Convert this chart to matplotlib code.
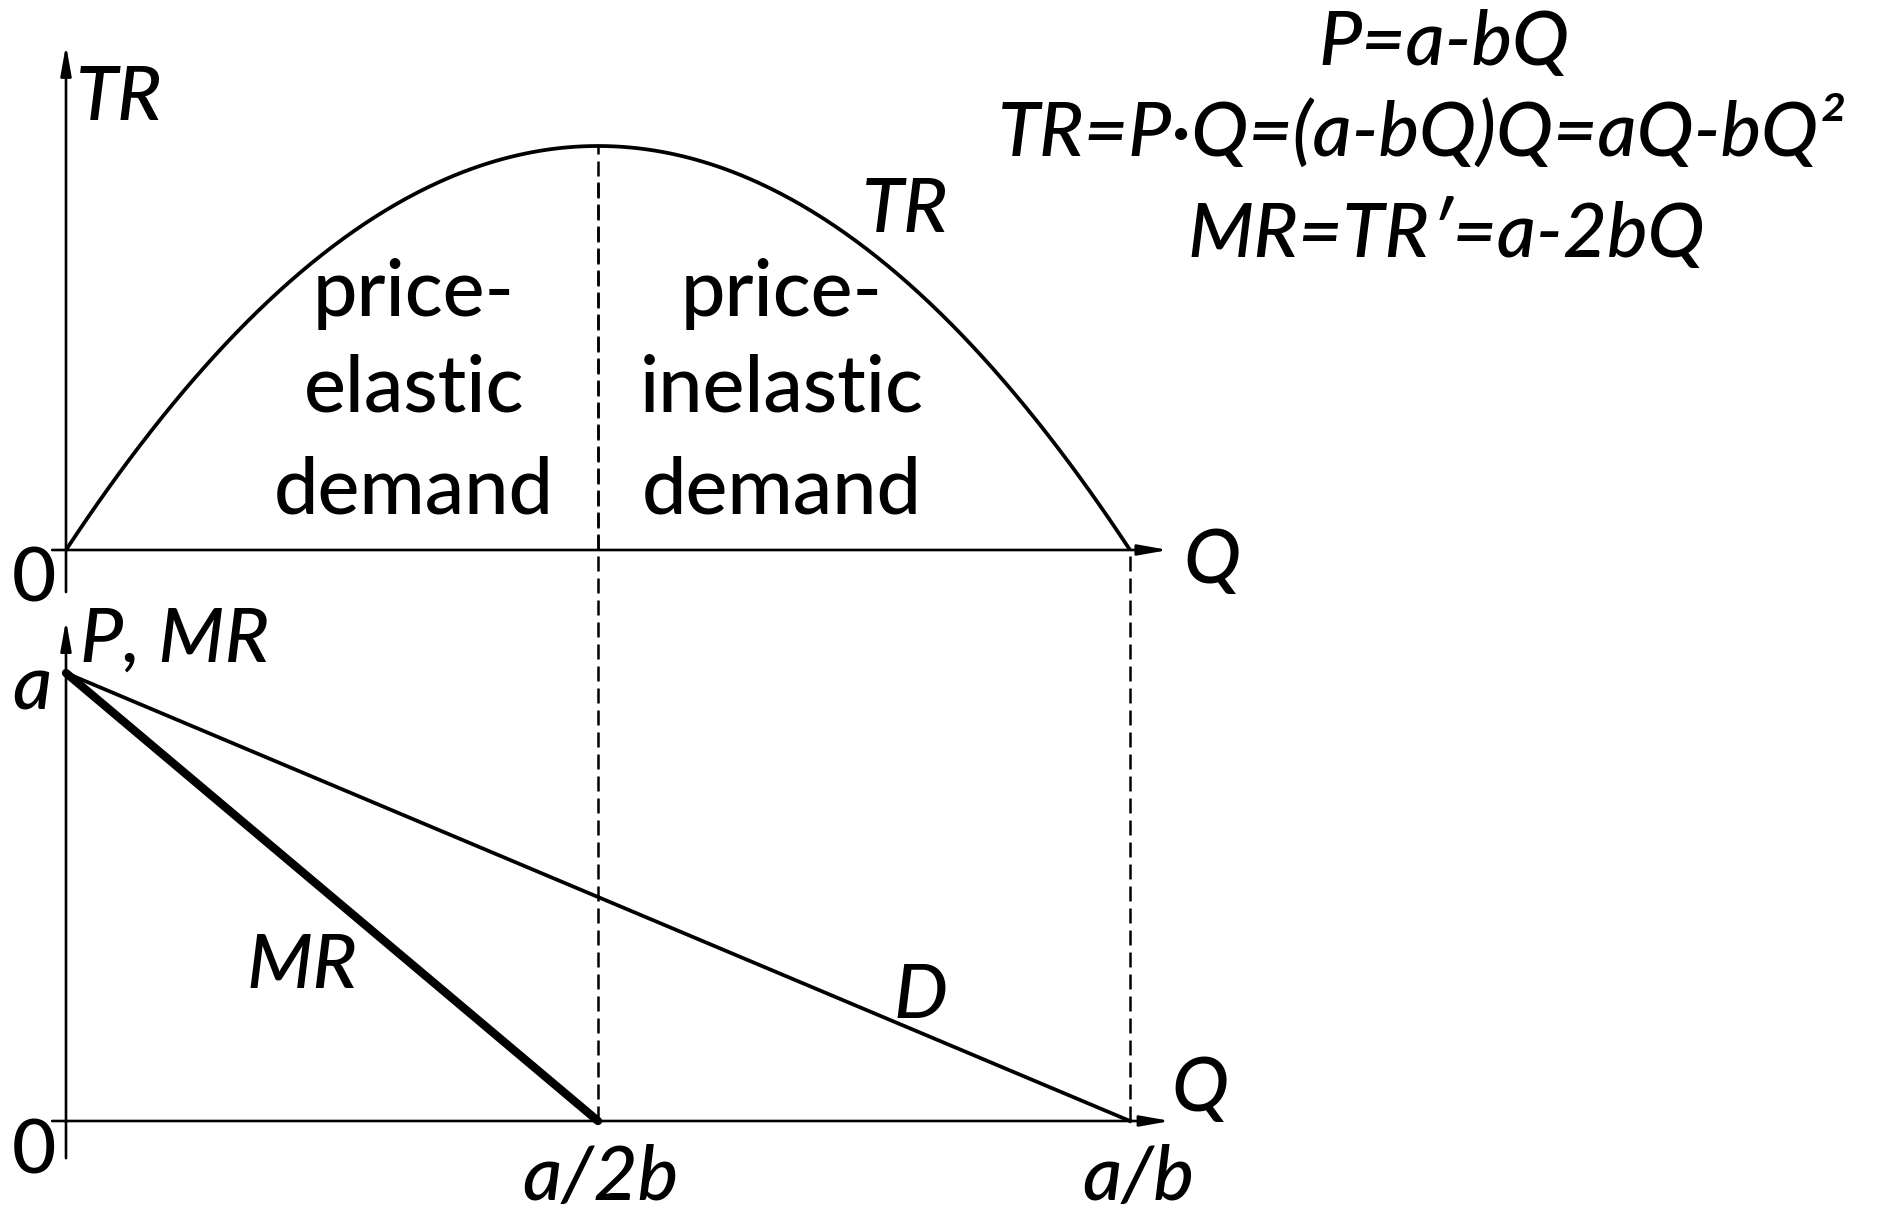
import matplotlib
matplotlib.use("Agg")
import matplotlib.pyplot as plt
import numpy as np

# ---- data (economic model, a = b = 1) ----
a = 1.0
b = 1.0
Q_max = a / b            # a/b
Q_mid = a / (2 * b)      # a/2b
Q = np.linspace(0, Q_max, 400)
TR = a * Q - b * Q ** 2
P_demand_Q = [0.0, Q_max]
P_demand = [a, 0.0]
MR_Q = [0.0, Q_mid]
MR_vals = [a, 0.0]

formula_lines = ["P=a-bQ", "TR=P·Q=(a-bQ)Q=aQ-bQ²", "MR=TR′=a-2bQ"]
x_tick_labels = ["a/2b", "a/b"]

FONT = ["Lato", "DejaVu Sans"]
W, H = 1881, 1211
fig = plt.figure(figsize=(W / 100, H / 100), dpi=100)
fig.patch.set_facecolor("white")

def frac(px0, py0, px1, py1):
    # rectangle from pixel corners (top-left origin) to figure fraction
    return [px0 / W, 1 - py1 / H, (px1 - px0) / W, (py1 - py0) / H]

tr_max = a * a / (4 * b)
ax1 = fig.add_axes(frac(66, 146, 1130, 550))
ax1.set_xlim(0, Q_max)
ax1.set_ylim(0, tr_max)
ax1.axis("off")

ax2 = fig.add_axes(frac(66, 673, 1130, 1121))
ax2.set_xlim(0, Q_max)
ax2.set_ylim(0, a)
ax2.axis("off")

arrow_kw = dict(arrowstyle="-|>,head_length=0.45,head_width=0.08", color="black",
                lw=1.9, mutation_scale=40, shrinkA=0, shrinkB=0)

# top axes arrows
ax1.annotate("", xy=(0, tr_max * 1.25), xytext=(0, -0.026), arrowprops=arrow_kw,
             annotation_clip=False)
ax1.annotate("", xy=(1.036, 0), xytext=(-0.013, 0), arrowprops=arrow_kw,
             annotation_clip=False)
# bottom axes arrows
ax2.annotate("", xy=(0, 1.118), xytext=(0, -0.083), arrowprops=arrow_kw,
             annotation_clip=False)
ax2.annotate("", xy=(1.038, 0), xytext=(-0.013, 0), arrowprops=arrow_kw,
             annotation_clip=False)

# TR curve
ax1.plot(Q, TR, color="black", lw=2.7, clip_on=False, solid_capstyle="butt")
# demand and MR
ax2.plot(P_demand_Q, P_demand, color="black", lw=2.7, clip_on=False)
ax2.plot(MR_Q, MR_vals, color="black", lw=6.0, clip_on=False, solid_capstyle="round")

# dashed guides
dash_kw = dict(color="black", lw=1.8, dashes=(6, 2.8))
ax1.plot([Q_mid, Q_mid], [0, tr_max], clip_on=False, **dash_kw)
ax2.plot([Q_mid, Q_mid], [0, 2.104], clip_on=False, **dash_kw)
ax2.plot([Q_max, Q_max], [0, 1.274], clip_on=False, **dash_kw)

def ftxt(px, py, s, size, style="italic", ha="center", va="center"):
    fig.text(px / W, 1 - py / H, s, fontsize=size, style=style, ha=ha, va=va,
             family=FONT, weight="medium")

S = 55
# axis labels
ftxt(76, 98, "TR", S, ha="left")
ftxt(34, 580, "0", S, style="normal")
ftxt(34, 1152, "0", S, style="normal")
ftxt(1212, 562, "Q", S)
ftxt(1200, 1090, "Q", S)
ftxt(80, 640, "P, MR", S, ha="left")
ftxt(32, 688, "a", S)
ftxt(905, 210, "TR", S)
ftxt(302, 966, "MR", S)
ftxt(920, 996, "D", S)
ftxt(600, 1178, x_tick_labels[0], S)
ftxt(1138, 1178, x_tick_labels[1], S)

# region labels
for cx, lines in [(414, ["price-", "elastic", "demand"]),
                  (782, ["price-", "inelastic", "demand"])]:
    for ly, s in zip([294, 390, 492], lines):
        ftxt(cx, ly, s, 57, style="normal")

# formulas
ftxt(1444, 44, formula_lines[0], S)
ftxt(1421, 132, formula_lines[1], S)
ftxt(1446, 234, formula_lines[2], S)

fig.savefig("out.png", dpi=100, facecolor="white")
